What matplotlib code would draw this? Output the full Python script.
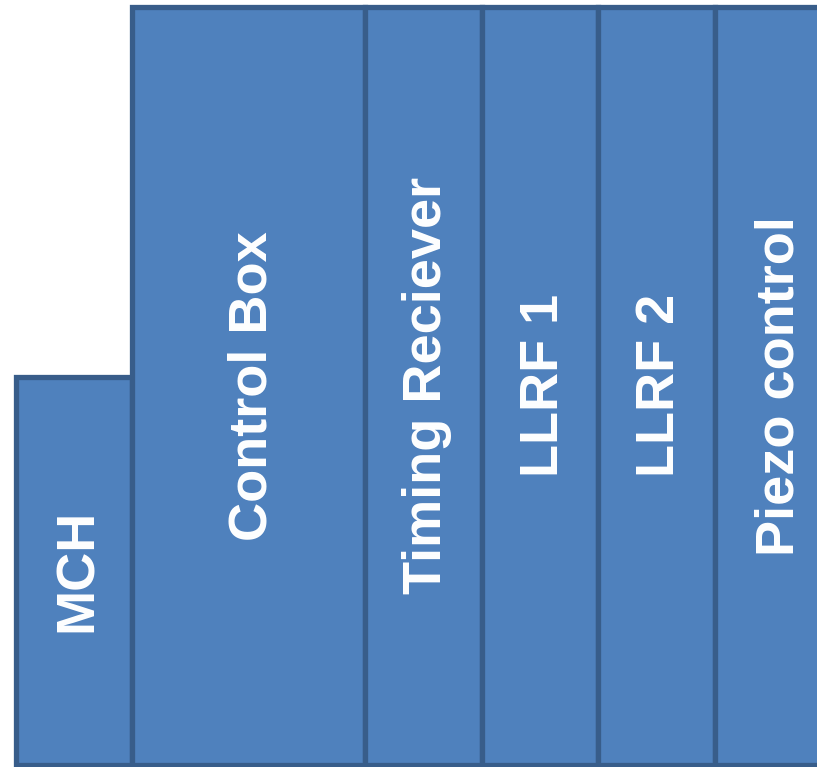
import matplotlib
matplotlib.use("Agg")
import matplotlib.pyplot as plt
from matplotlib.patches import Rectangle

labels = ["MCH", "Control Box", "Timing Reciever", "LLRF 1", "LLRF 2", "Piezo control"]
left_edges = [16, 132, 365, 482, 598, 715]
right_edges = [132, 365, 482, 598, 715, 836]
top_edges = [377, 7, 7, 7, 7, 7]
bottom = 764.5

fill = "#4F81BD"
edge = "#385D8A"

fig = plt.figure(figsize=(8.17, 7.67), dpi=100)
ax = fig.add_axes([0, 0, 1, 1])
ax.set_xlim(0, 817)
ax.set_ylim(767, 0)
ax.axis("off")

for lab, x0, x1, y0 in zip(labels, left_edges, right_edges, top_edges):
    r = Rectangle((x0, y0), x1 - x0, bottom - y0, facecolor=fill,
                  edgecolor=edge, linewidth=3.8, joinstyle="miter")
    ax.add_patch(r)
    # small nudge right so the capitals sit centred like the original
    ax.text((x0 + x1) / 2 + 4, (y0 + bottom) / 2, lab, rotation=90,
            ha="center", va="center", color="white", fontsize=39,
            fontweight="bold", family="Liberation Sans")

fig.savefig("out.png", dpi=100)
